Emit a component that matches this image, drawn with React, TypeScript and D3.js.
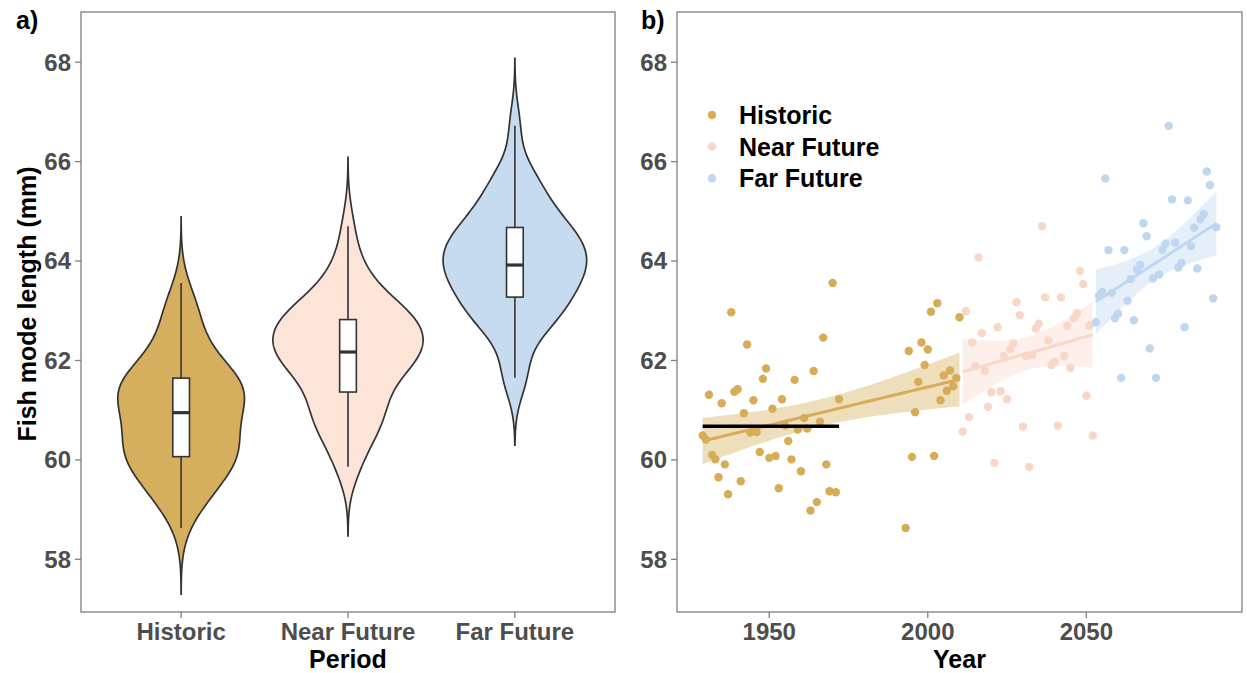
import React from 'react';
import * as d3 from 'd3';

// Annual fish mode length (mm) by period
const periods = ['Historic', 'Near Future', 'Far Future'];
const violinFills = ['#D5AE5E', '#FCE4D8', '#C6DBF0'];
const pointColors = ['#D6AC57', '#FAD6C7', '#BFD6F0'];

const historicYears = [
  1929, 1930, 1931, 1932, 1933, 1934, 1935, 1936, 1937, 1938, 1939, 1940, 1941, 1942, 1943,
  1944, 1945, 1946, 1947, 1948, 1949, 1950, 1951, 1952, 1953, 1954, 1955, 1956, 1957, 1958,
  1959, 1960, 1961, 1962, 1963, 1964, 1965, 1966, 1967, 1968, 1969, 1970, 1971, 1972,
  1993, 1994, 1995, 1996, 1997, 1998, 1999, 2000, 2001, 2002, 2003, 2004, 2005, 2006, 2007,
  2008, 2009, 2010,
];
const historicLengths = [
  60.49, 60.41, 61.31, 60.10, 60.01, 59.65, 61.14, 59.91, 59.31, 62.97, 61.37, 61.42, 59.57, 60.94, 62.32,
  60.55, 61.20, 60.56, 60.16, 61.63, 61.84, 60.04, 61.03, 60.08, 59.43, 61.22, 60.69, 60.38, 60.01, 61.61,
  60.61, 59.77, 60.84, 60.63, 58.98, 61.79, 59.15, 60.77, 62.46, 59.91, 59.37, 63.56, 59.35, 61.22,
  58.63, 62.19, 60.06, 60.96, 61.57, 62.36, 61.91, 62.22, 62.98, 60.08, 63.15, 61.20, 61.70, 61.39, 61.80,
  61.48, 61.65, 62.87,
];

const nearYears = [
  2011, 2012, 2013, 2014, 2015, 2016, 2017, 2018, 2019, 2020, 2021, 2022, 2023, 2024, 2025,
  2026, 2027, 2028, 2029, 2030, 2031, 2032, 2033, 2034, 2035, 2036, 2037, 2038, 2039, 2040,
  2041, 2042, 2043, 2044, 2045, 2046, 2047, 2048, 2049, 2050, 2051, 2052,
];
const nearLengths = [
  60.57, 62.99, 60.86, 62.36, 61.89, 64.07, 62.55, 61.79, 61.07, 61.36, 59.94, 62.67, 61.38, 62.09, 61.22,
  62.23, 62.34, 63.17, 62.91, 60.67, 62.09, 59.86, 62.11, 62.64, 62.74, 64.70, 63.27, 62.40, 61.91, 61.97,
  60.69, 63.27, 62.09, 62.70, 61.85, 62.85, 62.95, 63.80, 63.54, 61.29, 62.70, 60.49,
];

const farYears = [
  2053, 2054, 2055, 2056, 2057, 2058, 2059, 2060, 2061, 2062, 2063, 2064, 2065, 2066, 2067,
  2068, 2069, 2070, 2071, 2072, 2073, 2074, 2075, 2076, 2077, 2078, 2079, 2080, 2081, 2082,
  2083, 2084, 2085, 2086, 2087, 2088, 2089, 2090, 2091,
];
const farLengths = [
  62.77, 63.30, 63.38, 65.66, 64.22, 63.36, 62.85, 62.94, 61.65, 64.22, 63.20, 63.64, 62.81, 63.83, 63.92,
  64.76, 64.50, 62.24, 63.65, 61.65, 63.73, 64.22, 64.35, 66.72, 65.24, 64.37, 63.87, 63.96, 62.67, 65.22,
  64.30, 64.67, 63.85, 64.84, 64.94, 65.80, 65.53, 63.25, 64.68,
];

// Baseline period used for the reference mean
const baselineStart = 1929;
const baselineEnd = 1972;

const lengthTicks = [58, 60, 62, 64, 66, 68];
const yearTicks = [1950, 2000, 2050];

const FONT = '"Liberation Sans", Arial, Helvetica, sans-serif';
const AXIS_GREY = '#7F7F7F';
const TEXT_GREY = '#4D4D4D';

// Gaussian kernel density with R's bw.nrd0 bandwidth
function bwNrd0(v: number[]) {
  const s = d3.deviation(v) as number;
  const sorted = [...v].sort((a, b) => a - b);
  const iqr = (d3.quantileSorted(sorted, 0.75) as number) - (d3.quantileSorted(sorted, 0.25) as number);
  const lo = Math.min(s, iqr / 1.34);
  return 0.9 * lo * Math.pow(v.length, -0.2);
}

function density(v: number[], n = 512) {
  const bw = bwNrd0(v);
  const lo = (d3.min(v) as number) - 3 * bw;
  const hi = (d3.max(v) as number) + 3 * bw;
  const out: { y: number; d: number }[] = [];
  const c = 1 / (v.length * bw * Math.sqrt(2 * Math.PI));
  for (let i = 0; i < n; i++) {
    const yy = lo + ((hi - lo) * i) / (n - 1);
    let s = 0;
    for (const x of v) {
      const z = (yy - x) / bw;
      s += Math.exp(-0.5 * z * z);
    }
    out.push({ y: yy, d: s * c });
  }
  return out;
}

function boxStats(v: number[]) {
  const s = [...v].sort((a, b) => a - b);
  const q1 = d3.quantileSorted(s, 0.25) as number;
  const med = d3.quantileSorted(s, 0.5) as number;
  const q3 = d3.quantileSorted(s, 0.75) as number;
  const iqr = q3 - q1;
  const lowW = d3.min(s.filter((x) => x >= q1 - 1.5 * iqr)) as number;
  const highW = d3.max(s.filter((x) => x <= q3 + 1.5 * iqr)) as number;
  return { q1, med, q3, lowW, highW };
}

// Two-sided 95% Student t quantile (Cornish-Fisher expansion)
function t975(df: number) {
  const z = 1.959964;
  const g1 = (z ** 3 + z) / 4;
  const g2 = (5 * z ** 5 + 16 * z ** 3 + 3 * z) / 96;
  const g3 = (3 * z ** 7 + 19 * z ** 5 + 17 * z ** 3 - 15 * z) / 384;
  return z + g1 / df + g2 / df ** 2 + g3 / df ** 3;
}

function linearFit(xs: number[], ys: number[], n = 80) {
  const m = xs.length;
  const xb = d3.mean(xs) as number;
  const yb = d3.mean(ys) as number;
  let sxx = 0, sxy = 0;
  xs.forEach((x, i) => {
    sxx += (x - xb) ** 2;
    sxy += (x - xb) * (ys[i] - yb);
  });
  const b = sxy / sxx;
  const a = yb - b * xb;
  let sse = 0;
  xs.forEach((x, i) => {
    sse += (ys[i] - (a + b * x)) ** 2;
  });
  const s = Math.sqrt(sse / (m - 2));
  const t = t975(m - 2);
  const [x0, x1] = d3.extent(xs) as [number, number];
  return d3.range(n).map((i) => {
    const x = x0 + ((x1 - x0) * i) / (n - 1);
    const fit = a + b * x;
    const se = s * Math.sqrt(1 / m + (x - xb) ** 2 / sxx);
    return { x, fit, lo: fit - t * se, hi: fit + t * se };
  });
}

export default function App() {
  const W = 1247;
  const H = 673;
  const top = 12;
  const bottom = 612;
  const aL = 81, aR = 615, bL = 677, bR = 1242;
  const R = 4.2;

  const groups = [
    { years: historicYears, lengths: historicLengths },
    { years: nearYears, lengths: nearLengths },
    { years: farYears, lengths: farLengths },
  ].map((g, i) => ({ ...g, name: periods[i], fill: violinFills[i], color: pointColors[i] }));

  const y = d3.scaleLinear().domain([56.94, 69.01]).range([bottom, top]);
  const xCat = d3.scaleLinear().domain([0.4, 3.6]).range([aL, aR]);
  const allYears = groups.flatMap((g) => g.years);
  const [yr0, yr1] = d3.extent(allYears) as [number, number];
  const pad = (yr1 - yr0) * 0.05;
  const xYear = d3.scaleLinear().domain([yr0 - pad, yr1 + pad]).range([bL, bR]);

  // Violins (scale = "area": common density maximum)
  const dens = groups.map((g) => density(g.lengths));
  const dMax = d3.max(dens.flat(), (p) => p.d) as number;
  const unit = xCat(1) - xCat(0);
  const violinPaths = dens.map((ds, i) => {
    const cx = xCat(i + 1);
    const half = (d: number) => (d / dMax) * 0.45 * unit;
    const right = ds.map((p) => [cx + half(p.d), y(p.y)] as [number, number]);
    const left = [...ds].reverse().map((p) => [cx - half(p.d), y(p.y)] as [number, number]);
    return d3.line()([...right, ...left]) + 'Z';
  });
  const boxes = groups.map((g) => boxStats(g.lengths));
  const boxHalf = 0.05 * unit;

  // Linear trend with 95% confidence band per period
  const fits = groups.map((g) => linearFit(g.years, g.lengths));
  const ribbon = d3
    .area<{ x: number; lo: number; hi: number }>()
    .x((p) => xYear(p.x))
    .y0((p) => y(p.lo))
    .y1((p) => y(p.hi));
  const fitLine = d3
    .line<{ x: number; fit: number }>()
    .x((p) => xYear(p.x))
    .y((p) => y(p.fit));

  const baseVals = historicLengths.filter(
    (_, i) => historicYears[i] >= baselineStart && historicYears[i] <= baselineEnd
  );
  const baseMean = d3.mean(baseVals) as number;

  const tickFont = { fontFamily: FONT, fontWeight: 700, fontSize: 24, fill: TEXT_GREY };
  const titleFont = { fontFamily: FONT, fontWeight: 700, fontSize: 25, fill: '#000' };

  const yAxis = (left: number) => (
    <g>
      {lengthTicks.map((t) => (
        <g key={t}>
          <line x1={left - 6} x2={left} y1={y(t)} y2={y(t)} stroke={AXIS_GREY} strokeWidth={1.3} />
          <text x={left - 10} y={y(t)} dy="0.35em" textAnchor="end" {...tickFont}>
            {t}
          </text>
        </g>
      ))}
    </g>
  );

  return (
    <svg width={W} height={H} style={{ position: 'absolute', left: 0, top: 0, background: '#fff' }}>
      <rect x={0} y={0} width={W} height={H} fill="#fff" />

      {/* Panel a: violins with boxplots */}
      <text x={16} y={29} {...titleFont}>a)</text>
      {violinPaths.map((d, i) => (
        <path key={i} d={d} fill={groups[i].fill} stroke="#333" strokeWidth={1.7} />
      ))}
      {boxes.map((b, i) => {
        const cx = xCat(i + 1);
        return (
          <g key={i} stroke="#333" strokeWidth={1.6}>
            <line x1={cx} x2={cx} y1={y(b.highW)} y2={y(b.q3)} />
            <line x1={cx} x2={cx} y1={y(b.q1)} y2={y(b.lowW)} />
            <rect x={cx - boxHalf} y={y(b.q3)} width={2 * boxHalf} height={y(b.q1) - y(b.q3)} fill="#fff" />
            <line x1={cx - boxHalf} x2={cx + boxHalf} y1={y(b.med)} y2={y(b.med)} strokeWidth={3.2} />
          </g>
        );
      })}
      <rect x={aL} y={top} width={aR - aL} height={bottom - top} fill="none" stroke={AXIS_GREY} strokeWidth={1.3} />
      {yAxis(aL)}
      {periods.map((p, i) => (
        <g key={p}>
          <line x1={xCat(i + 1)} x2={xCat(i + 1)} y1={bottom} y2={bottom + 6} stroke={AXIS_GREY} strokeWidth={1.3} />
          <text x={xCat(i + 1)} y={640} textAnchor="middle" {...tickFont}>
            {p}
          </text>
        </g>
      ))}
      <text x={(aL + aR) / 2} y={668} textAnchor="middle" {...titleFont}>Period</text>
      <text
        transform={`translate(36, ${(top + bottom) / 2 - 8}) rotate(-90)`}
        textAnchor="middle"
        {...titleFont}
      >
        Fish mode length (mm)
      </text>

      {/* Panel b: time series with linear trends */}
      <text x={641} y={29} {...titleFont}>b)</text>
      {groups.map((g, gi) => (
        <g key={gi}>
          {g.years.map((yr, i) => (
            <circle key={yr} cx={xYear(yr)} cy={y(g.lengths[i])} r={R} fill={g.color} />
          ))}
        </g>
      ))}
      {fits.map((f, i) => (
        <path key={'r' + i} d={ribbon(f) as string} fill={pointColors[i]} fillOpacity={0.4} stroke="none" />
      ))}
      {fits.map((f, i) => (
        <path key={'l' + i} d={fitLine(f) as string} fill="none" stroke={pointColors[i]} strokeWidth={3} />
      ))}
      <line
        x1={xYear(baselineStart)}
        x2={xYear(baselineEnd)}
        y1={y(baseMean)}
        y2={y(baseMean)}
        stroke="#000"
        strokeWidth={3.5}
      />
      <rect x={bL} y={top} width={bR - bL} height={bottom - top} fill="none" stroke={AXIS_GREY} strokeWidth={1.3} />
      {yAxis(bL)}
      {yearTicks.map((t) => (
        <g key={t}>
          <line x1={xYear(t)} x2={xYear(t)} y1={bottom} y2={bottom + 6} stroke={AXIS_GREY} strokeWidth={1.3} />
          <text x={xYear(t)} y={640} textAnchor="middle" {...tickFont}>
            {t}
          </text>
        </g>
      ))}
      <text x={(bL + bR) / 2} y={668} textAnchor="middle" {...titleFont}>Year</text>

      {/* Legend */}
      {periods.map((p, i) => (
        <g key={p}>
          <circle cx={712} cy={115 + i * 31.6} r={R} fill={pointColors[i]} />
          <text x={739} y={115 + i * 31.6} dy="0.36em" {...titleFont}>
            {p}
          </text>
        </g>
      ))}
    </svg>
  );
}
